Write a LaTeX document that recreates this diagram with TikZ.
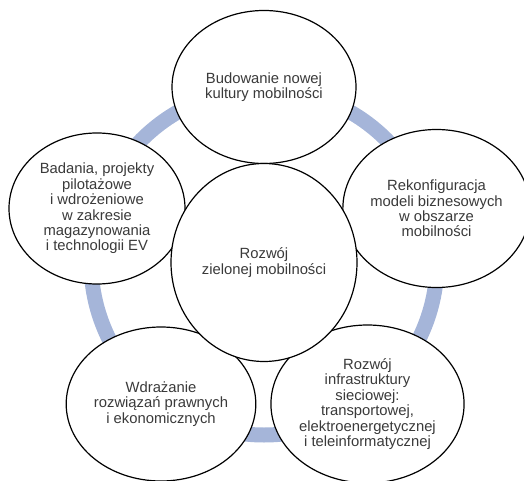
\documentclass[tikz,border=0pt]{standalone}
\usepackage{fontspec}
\setmainfont{Liberation Sans}
\usetikzlibrary{shapes.geometric}

\definecolor{ringblue}{HTML}{A5B5D9}
\definecolor{textgray}{HTML}{3A3A3A}
\tikzset{
  goal/.style={ellipse, draw=black, line width=1.2pt, fill=white, inner sep=0pt,
    align=center, text=textgray, font=\fontsize{14.8}{15.4}\selectfont},
}

\begin{document}
\begin{tikzpicture}[x=1pt,y=-1pt]
      \useasboundingbox (0,0) rectangle (524,481);
      \draw[ringblue, line width=15pt] (264,262) circle (173);

      \node[goal, minimum width=184pt, minimum height=153pt] (kultura) at (264,87)
        {Budowanie nowej\\kultury mobilności};
      \node[goal, minimum width=174pt, minimum height=158pt] (modele) at (436.5,208.5)
        {Rekonfiguracja\\modeli biznesowych\\w obszarze\\mobilności};
      \node[goal, minimum width=176pt, minimum height=151pt] (badania) at (97,208.5)
        {Badania, projekty\\pilotażowe\\i wdrożeniowe\\w zakresie\\magazynowania\\i technologii EV};
      \node[goal, minimum width=185pt, minimum height=154pt] (prawo) at (161,404)
        {Wdrażanie\\rozwiązań prawnych\\i ekonomicznych};
      \node[goal, minimum width=188pt, minimum height=158pt] (siec) at (367.5,404)
        {Rozwój\\infrastruktury\\sieciowej:\\transportowej,\\elektroenergetycznej\\i teleinformatycznej};
      \node[goal, minimum width=186pt, minimum height=198pt] (rozwoj) at (264,262.5)
        {Rozwój\\zielonej mobilności};
    \end{tikzpicture}
\end{document}
